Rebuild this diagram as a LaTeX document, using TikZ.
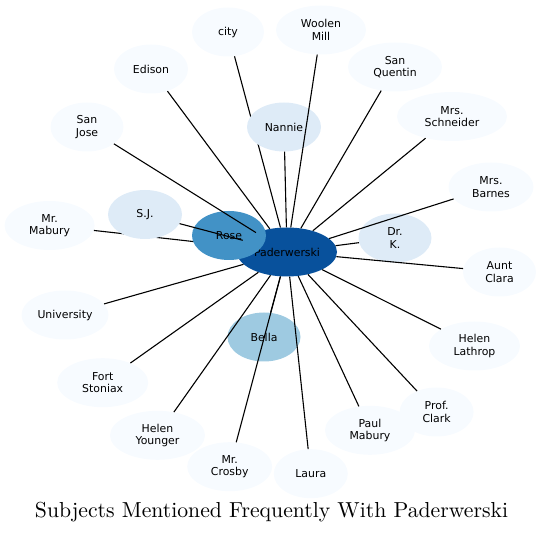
\documentclass[tikz,border=0pt]{standalone}
\usepackage{fontspec}
\setsansfont{DejaVu Sans}
\newfontfamily\titlefont{lmroman10-regular.otf}
\usepackage{xcolor}
\usepackage{tikz}
\usetikzlibrary{shapes.geometric}
\definecolor{bluepale}{HTML}{F7FBFF}
\definecolor{bluelight}{HTML}{DEEBF7}
\definecolor{bluemid}{HTML}{9ECAE1}
\definecolor{bluedeep}{HTML}{4292C6}
\definecolor{bluedark}{HTML}{08519C}

\begin{document}
\begin{tikzpicture}[
    x=1pt, y=-1pt,
    subject/.style={ellipse, fill=bluepale, inner sep=0pt, minimum width=74pt, minimum height=49pt, align=center, font=\sffamily\fontsize{10.9}{12.5}\selectfont},
    link/.style={line width=1.1pt}
]
\useasboundingbox (0,0) rectangle (541,534);
\node[subject, fill=bluedark, minimum width=100pt] (pad) at (287,252) {Paderwerski};
\node[subject, minimum width=72pt] (city) at (228,32) {city};
\node[subject, minimum width=90pt] (woolen) at (321,30) {Woolen\\Mill};
\node[subject] (edison) at (151,69) {Edison};
\node[subject, minimum width=94pt] (quentin) at (395,67) {San\\Quentin};
\node[subject, minimum width=73pt] (sanjose) at (87,127) {San\\Jose};
\node[subject, minimum width=110pt] (schneider) at (452,116.5) {Mrs.\\Schneider};
\node[subject, minimum width=85pt] (barnes) at (491,187) {Mrs.\\Barnes};
\node[subject, minimum width=73pt] (clara) at (499.5,272) {Aunt\\Clara};
\node[subject, minimum width=90pt] (mrmabury) at (49.6,225.5) {Mr.\\Mabury};
\node[subject, minimum width=87pt] (university) at (65,315) {University};
\node[subject, minimum width=91pt] (lathrop) at (474.5,346) {Helen\\Lathrop};
\node[subject, minimum width=91pt] (stoniax) at (102.7,382.7) {Fort\\Stoniax};
\node[subject, minimum width=95pt] (younger) at (157.5,435.3) {Helen\\Younger};
\node[subject, minimum width=85pt] (crosby) at (229.7,466.7) {Mr.\\Crosby};
\node[subject] (laura) at (310.8,473.7) {Laura};
\node[subject, minimum width=90pt] (paulmabury) at (370,430.3) {Paul\\Mabury};
\node[subject] (clark) at (436.6,412) {Prof.\\Clark};
\draw[link] (mrmabury) -- (pad);
\draw[link] (city) -- (pad);
\node[subject, fill=bluedeep] (rose) at (229,235.5) {Rose};
\node[subject, fill=bluelight] (nannie) at (284,127) {Nannie};
\node[subject, fill=bluelight] (sj) at (145,214.5) {S.J.};
\node[subject, fill=bluelight, minimum width=73pt] (drk) at (395,238) {Dr.\\K.};
\node[subject, fill=bluemid, minimum width=73pt] (bella) at (264,337) {Bella};
\draw[link] (nannie) -- (pad);
\draw[link] (woolen) -- (pad);
\draw[link] (edison) -- (pad);
\draw[link] (quentin) -- (pad);
\draw[link] (sanjose) -- (pad);
\draw[link] (schneider) -- (pad);
\draw[link] (barnes) -- (pad);
\draw[link] (drk) -- (pad);
\draw[link] (clara) -- (pad);
\draw[link] (sj) -- (pad);
\draw[link] (university) -- (pad);
\draw[link] (lathrop) -- (pad);
\draw[link] (stoniax) -- (pad);
\draw[link] (younger) -- (pad);
\draw[link] (bella) -- (pad);
\draw[link] (crosby) -- (pad);
\draw[link] (laura) -- (pad);
\draw[link] (paulmabury) -- (pad);
\draw[link] (clark) -- (pad);
\node[font=\titlefont\fontsize{21.7}{26}\selectfont] (title) at (271.5,512) {Subjects Mentioned Frequently With Paderwerski};
\end{tikzpicture}
\end{document}
